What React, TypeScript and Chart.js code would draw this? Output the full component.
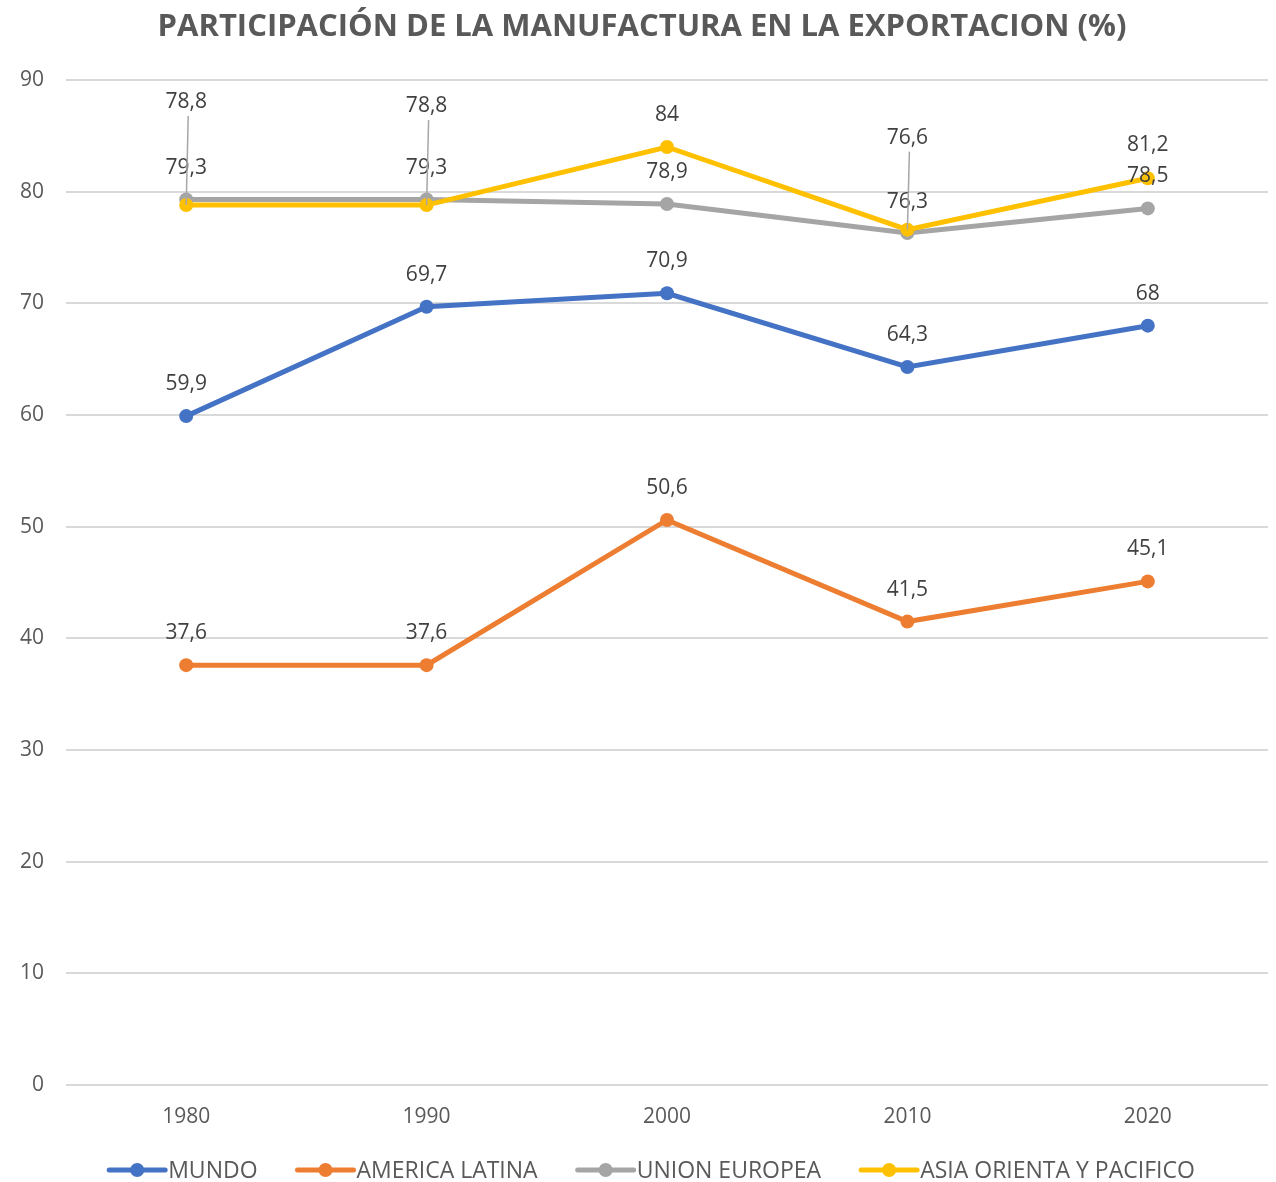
import React, { useEffect, useRef } from "react";
import { Chart, registerables } from "chart.js";

Chart.register(...registerables);

const TITLE = "PARTICIPACIÓN DE LA MANUFACTURA EN LA EXPORTACION (%)";
const years = ["1980", "1990", "2000", "2010", "2020"];
const mundo = [59.9, 69.7, 70.9, 64.3, 68];
const americaLatina = [37.6, 37.6, 50.6, 41.5, 45.1];
const unionEuropea = [79.3, 79.3, 78.9, 76.3, 78.5];
const asiaPacifico = [78.8, 78.8, 84, 76.6, 81.2];
const seriesNames = ["MUNDO", "AMERICA LATINA", "UNION EUROPEA", "ASIA ORIENTA Y PACIFICO"];
const colors = ["#4472C4", "#ED7D31", "#A5A5A5", "#FFC000"];

// label placement (style): pixels above point, and whether a leader line is drawn
const labelLift = [
  [32, 32, 32, 32, 32],
  [32, 32, 32, 32, 32],
  [31, 31, 32, 31, 32],
  [103, 99, 32, 92, 33],
];
const leader = [
  [false, false, false, false, false],
  [false, false, false, false, false],
  [false, false, false, false, false],
  [true, true, false, true, false],
];

const FONT = "'Open Sans', 'DejaVu Sans', sans-serif";

const fmt = (v: number) => String(v).replace(".", ",");

const overlayPlugin = {
  id: "overlay",
  afterDatasetsDraw(chart: any) {
    const ctx = chart.ctx;
    ctx.save();
    ctx.font = `21px ${FONT}`;
    ctx.fillStyle = "#404040";
    ctx.textAlign = "center";
    ctx.textBaseline = "middle";
    chart.data.datasets.forEach((ds: any, di: number) => {
      const meta = chart.getDatasetMeta(di);
      meta.data.forEach((pt: any, i: number) => {
        const lift = labelLift[di][i];
        const ly = pt.y - lift;
        if (leader[di][i]) {
          ctx.save();
          ctx.strokeStyle = "#A6A6A6";
          ctx.lineWidth = 1.5;
          ctx.beginPath();
          ctx.moveTo(pt.x + 2, ly + 14);
          ctx.lineTo(pt.x, pt.y);
          ctx.stroke();
          ctx.restore();
        }
        ctx.fillText(fmt(ds.data[i]), pt.x, ly);
      });
    });
    ctx.restore();
  },
  afterDraw(chart: any) {
    const ctx = chart.ctx;
    ctx.save();
    // title
    ctx.font = `bold 31px ${FONT}`;
    ctx.fillStyle = "#595959";
    ctx.textAlign = "center";
    ctx.textBaseline = "middle";
    ctx.fillText(TITLE, chart.width / 2 + 4, 27);
    // legend
    ctx.font = `23px ${FONT}`;
    const lineW = 56;
    const gap = 3;
    const spacing = 40;
    const widths = seriesNames.map((n) => lineW + gap + ctx.measureText(n).width);
    const total = widths.reduce((a, b) => a + b, 0) + spacing * (seriesNames.length - 1);
    let x = chart.width / 2 - total / 2 + 14;
    const y = 1170;
    ctx.textAlign = "left";
    seriesNames.forEach((n, i) => {
      ctx.strokeStyle = colors[i];
      ctx.lineWidth = 5;
      ctx.lineCap = "round";
      ctx.beginPath();
      ctx.moveTo(x, y);
      ctx.lineTo(x + lineW, y);
      ctx.stroke();
      ctx.fillStyle = colors[i];
      ctx.beginPath();
      ctx.arc(x + lineW / 2, y, 7, 0, Math.PI * 2);
      ctx.fill();
      ctx.fillStyle = "#595959";
      ctx.fillText(n, x + lineW + gap, y + 1);
      x += widths[i] + spacing;
    });
    ctx.restore();
  },
};

export default function App() {
  const ref = useRef<HTMLCanvasElement>(null);
  useEffect(() => {
    if (!ref.current) return;
    const data = [mundo, americaLatina, unionEuropea, asiaPacifico];
    const chart = new Chart(ref.current, {
      type: "line",
      data: {
        labels: years,
        datasets: data.map((d, i) => ({
          label: seriesNames[i],
          data: d,
          borderColor: colors[i],
          backgroundColor: colors[i],
          borderWidth: 5,
          pointRadius: 7,
          pointHoverRadius: 7,
          pointBorderWidth: 0,
          tension: 0,
          order: 4 - i,
        })),
      },
      options: {
        animation: false,
        responsive: false,
        devicePixelRatio: 1,
        layout: { padding: { top: 80, right: 8, bottom: 47, left: 0 } },
        plugins: { legend: { display: false }, title: { display: false }, tooltip: { enabled: false } },
        scales: {
          x: {
            type: "category",
            offset: true,
            grid: { display: false, drawTicks: false },
            border: { display: false },
            ticks: { color: "#595959", font: { family: FONT, size: 21 }, padding: 19 },
            afterFit: (s: any) => { s.height = 50; },
          },
          y: {
            min: 0,
            max: 90,
            ticks: { stepSize: 10, color: "#595959", font: { family: FONT, size: 21 }, padding: 22 },
            grid: { color: "#D9D9D9", lineWidth: 2, drawTicks: false },
            border: { display: false },
            afterFit: (s: any) => { s.width = 66; },
          },
        },
      },
      plugins: [overlayPlugin],
    });
    return () => chart.destroy();
  }, []);
  return (
    <div style={{ position: "fixed", left: 0, top: 0, width: 1276, height: 1182, background: "#fff" }}>
      <canvas ref={ref} width={1276} height={1182} style={{ width: 1276, height: 1182 }} />
    </div>
  );
}
